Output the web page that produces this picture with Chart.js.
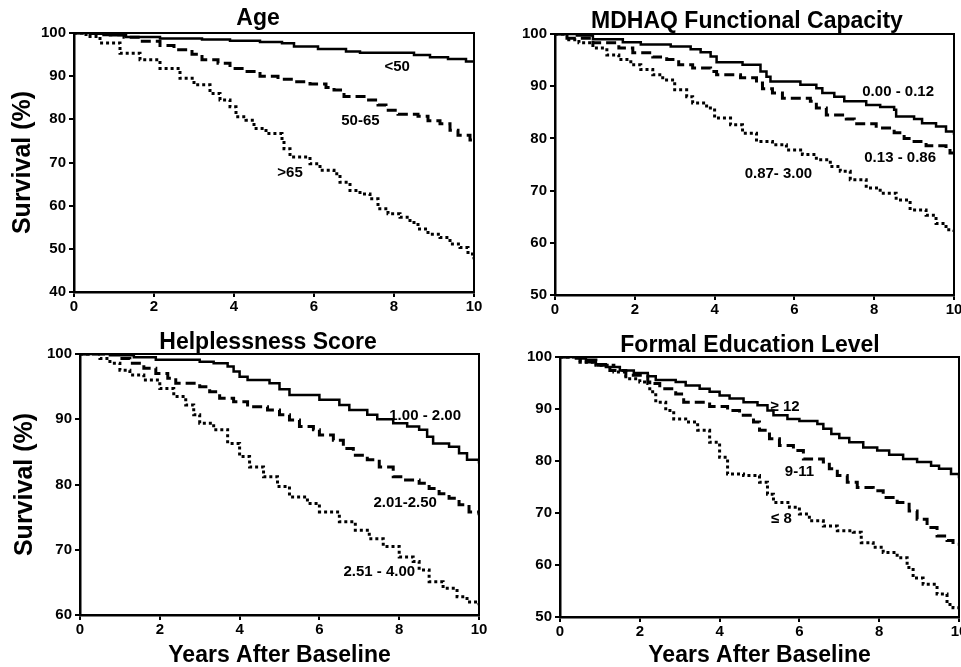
<!DOCTYPE html>
<html><head><meta charset="utf-8">
<script src="https://cdn.jsdelivr.net/npm/chart.js@4.4.1/dist/chart.umd.min.js"></script>
<style>
html,body{margin:0;padding:0;background:#fff;overflow:hidden;width:961px;height:667px;position:relative;}
canvas{position:absolute;}
</style></head><body>
<canvas id="c1" width="516" height="330" style="left:0px;top:0px"></canvas>
<canvas id="c2" width="514" height="330" style="left:490px;top:0px"></canvas>
<canvas id="c3" width="536" height="337" style="left:0px;top:330px"></canvas>
<canvas id="c4" width="520" height="337" style="left:490px;top:330px"></canvas>
<script>
// ---------- DATA (years after baseline, survival %) ----------
const panelTitles = ["Age", "MDHAQ Functional Capacity", "Helplessness Score", "Formal Education Level"];
const yTitle = "Survival (%)";
const xTitle = "Years After Baseline";
const xTicks = [0, 2, 4, 6, 8, 10];

// Age
const ageNames = ["<50", "50-65", ">65"];
const ageLt50 = [[0,100],[0.4,99.8],[0.9,99.5],[1.3,99.1],[2.15,98.7],[3.2,98.5],[3.9,98.2],[4.65,97.9],[5.2,97.6],[5.5,96.9],[6.1,96.3],[6.8,95.7],[7.15,95.4],[8.5,94.9],[8.9,94.4],[9.35,94.0],[9.8,93.4],[10,93.2]];
const age50to65 = [[0,100],[0.6,99.6],[1.25,99.0],[1.65,98.1],[2.15,97.1],[2.5,96.1],[2.95,95.1],[3.2,93.8],[3.6,93.0],[3.9,91.8],[4.25,91.1],[4.65,90.0],[5.1,89.3],[5.5,88.7],[5.9,88.2],[6.3,87.4],[6.5,86.8],[6.75,85.3],[7.3,84.5],[7.6,83.3],[7.8,82.1],[8.1,81.2],[8.6,80.7],[8.85,79.7],[9.15,79.0],[9.4,77.5],[9.6,76.3],[9.9,75.2],[10,74.8]];
const ageGt65 = [[0,100],[0.3,99.2],[0.65,97.7],[1.15,95.3],[1.65,93.8],[2.15,91.8],[2.65,89.5],[3.0,88.0],[3.4,86.0],[3.65,84.5],[3.9,82.9],[4.05,80.6],[4.3,79.8],[4.5,77.9],[4.8,76.7],[5.2,75.2],[5.25,73.2],[5.4,71.3],[5.9,69.7],[6.15,68.2],[6.5,67.4],[6.65,65.4],[6.9,63.5],[7.15,62.7],[7.4,61.6],[7.6,59.3],[7.85,58.1],[8.15,57.3],[8.4,56.1],[8.6,54.6],[8.85,53.4],[9.15,52.6],[9.4,51.1],[9.65,50.3],[9.85,48.8],[10,47.6]];

// MDHAQ functional capacity
const mdhaqNames = ["0.00 - 0.12", "0.13 - 0.86", "0.87- 3.00"];
const mdhaqLow = [[0,100],[0.55,99.7],[0.95,99.0],[1.7,98.4],[2.15,98.0],[2.9,97.6],[3.4,97.1],[3.65,96.5],[3.9,95.7],[4.05,94.6],[4.7,94.1],[5.15,92.8],[5.3,91.8],[5.4,90.9],[6.15,90.3],[6.55,89.6],[6.7,88.7],[7.0,88.0],[7.25,87.1],[7.8,86.4],[8.15,86.0],[8.5,85.5],[8.55,84.2],[9.0,83.7],[9.2,82.9],[9.55,82.3],[9.8,81.3],[10,80.7]];
const mdhaqMid = [[0,100],[0.3,99.2],[0.95,98.3],[1.6,97.3],[1.95,96.4],[2.45,95.6],[2.8,95.1],[3.1,94.1],[3.45,93.5],[3.9,92.8],[4.05,92.2],[4.65,91.6],[5.05,90.6],[5.2,89.5],[5.45,88.7],[5.7,87.7],[6.4,87.1],[6.55,85.8],[6.8,84.5],[7.3,83.7],[7.5,82.8],[8.05,82.0],[8.5,81.1],[8.75,80.0],[9.0,79.4],[9.3,78.6],[9.8,78.1],[9.9,77.2],[10,77.2]];
const mdhaqHigh = [[0,100],[0.3,98.9],[0.6,98.3],[0.95,97.3],[1.3,96.0],[1.6,95.1],[1.9,94.1],[2.15,93.2],[2.45,92.2],[2.7,91.2],[3.0,89.3],[3.3,88.0],[3.45,86.8],[3.8,85.8],[4.0,83.9],[4.4,82.6],[4.7,81.0],[5.05,79.4],[5.45,78.8],[5.8,77.8],[6.2,76.9],[6.55,75.9],[6.9,74.6],[7.15,73.7],[7.4,72.1],[7.8,70.5],[8.15,69.5],[8.55,68.2],[8.9,66.3],[9.3,65.3],[9.55,63.7],[9.8,62.5],[10,61.5]];

// Helplessness score
const helpNames = ["1.00 - 2.00", "2.01-2.50", "2.51 - 4.00"];
const helpLow = [[0,100],[0.75,99.8],[1.35,99.5],[1.9,99.1],[3.0,98.8],[3.35,98.6],[3.7,98.1],[3.85,97.3],[4.0,96.5],[4.2,96.0],[4.75,95.5],[5.0,94.6],[5.25,93.7],[6.0,93.0],[6.5,92.2],[6.75,91.4],[7.2,90.7],[7.45,90.0],[7.85,89.4],[8.2,88.9],[8.5,88.4],[8.7,87.3],[8.85,86.3],[9.25,85.8],[9.5,84.8],[9.7,83.8],[10,83.2]];
const helpMid = [[0,100],[1.0,99.3],[1.25,98.6],[1.6,97.8],[1.9,97.0],[2.2,96.3],[2.4,95.5],[3.0,95.0],[3.25,94.2],[3.5,93.2],[3.85,92.7],[4.2,91.9],[4.7,91.4],[5.0,90.7],[5.25,89.9],[5.5,88.9],[5.85,88.4],[6.0,87.6],[6.35,86.8],[6.6,85.5],[6.85,84.5],[7.2,83.8],[7.5,82.7],[7.85,81.2],[8.1,80.7],[8.5,80.2],[8.75,79.4],[9.0,78.6],[9.25,77.9],[9.5,76.9],[9.75,75.8],[10,75.3]];
const helpHigh = [[0,100],[0.5,99.3],[0.75,98.6],[1.0,97.5],[1.25,96.8],[1.6,96.0],[2.0,94.7],[2.35,93.5],[2.65,92.2],[2.85,90.7],[3.0,89.4],[3.35,88.4],[3.7,86.3],[4.0,84.3],[4.25,82.7],[4.6,81.2],[4.95,79.7],[5.25,78.1],[5.7,77.1],[6.0,75.8],[6.5,74.3],[6.9,73.0],[7.25,71.7],[7.6,70.5],[8.0,68.9],[8.35,68.2],[8.5,66.9],[8.75,65.1],[9.1,64.1],[9.45,62.8],[9.7,62.0],[10,61.5]];

// Formal education level
const eduNames = ["\u2265 12", "9-11", "\u2264 8"];
const eduHigh = [[0,100],[0.4,99.7],[0.65,99.0],[0.9,98.6],[1.15,98.1],[1.5,97.4],[1.85,96.9],[2.2,96.3],[2.4,95.6],[2.9,95.2],[3.15,94.5],[3.5,93.9],[3.75,93.3],[4.0,92.6],[4.25,92.0],[4.6,91.3],[4.95,90.7],[5.2,89.7],[5.35,88.8],[5.7,88.1],[6.0,87.7],[6.45,87.1],[6.6,86.2],[6.8,85.2],[7.0,84.4],[7.25,83.6],[7.6,82.6],[7.95,82.0],[8.25,81.2],[8.6,80.4],[8.95,79.8],[9.3,79.1],[9.5,78.5],[9.8,77.5],[10,76.7]];
const eduMid = [[0,100],[0.5,99.4],[0.9,98.4],[1.25,97.4],[1.65,96.5],[2.2,94.9],[2.5,93.9],[2.9,92.9],[3.1,91.3],[3.75,90.5],[4.2,89.7],[4.5,88.8],[4.85,87.5],[5.0,85.9],[5.25,84.3],[5.5,83.0],[5.85,82.0],[6.1,80.4],[6.6,79.8],[6.75,78.5],[6.95,77.2],[7.2,75.9],[7.45,74.9],[7.85,74.3],[8.1,73.0],[8.45,72.0],[8.75,70.4],[8.95,68.8],[9.2,67.2],[9.45,65.6],[9.7,64.7],[9.85,64.0],[10,64.0]];
const eduLow = [[0,100],[0.5,99.0],[0.9,98.4],[1.35,97.1],[1.65,95.8],[2.0,95.2],[2.25,93.3],[2.4,91.3],[2.65,89.7],[2.85,88.1],[3.15,87.5],[3.45,85.9],[3.75,83.6],[4.0,80.7],[4.2,77.5],[4.6,77.2],[5.0,75.9],[5.2,73.6],[5.35,72.0],[5.75,71.1],[6.0,69.8],[6.25,68.5],[6.6,67.5],[6.95,66.6],[7.35,66.3],[7.55,64.3],[7.85,63.4],[8.1,62.4],[8.45,61.4],[8.7,59.5],[8.85,57.5],[9.1,56.3],[9.45,54.4],[9.7,52.4],[9.85,51.8],[10,51.5]];

// ---------- STYLE / LAYOUT ----------
const FAMILY = "'Liberation Sans', Arial, Helvetica, sans-serif";
Chart.defaults.font.family = FAMILY;
Chart.defaults.font.weight = 'bold';
Chart.defaults.color = '#000';

const LINE = [
  {borderWidth: 2.5, borderDash: []},
  {borderWidth: 3, borderDash: [10, 5]},
  {borderWidth: 3, borderDash: [3, 3]}
];

function makePanel(id, p) {
  const labelPlugin = {
    id: 'curveLabels_' + id,
    afterDatasetsDraw(chart) {
      const ctx = chart.ctx, xs = chart.scales.x, ys = chart.scales.y;
      ctx.save();
      ctx.font = 'bold 15px ' + FAMILY;
      ctx.fillStyle = '#000';
      ctx.textAlign = 'center';
      ctx.textBaseline = 'middle';
      p.labels.forEach((l, i) => ctx.fillText(p.names[i], xs.getPixelForValue(l[0]), ys.getPixelForValue(l[1])));
      ctx.restore();
    }
  };
  const tickFont = {size: 15, weight: 'bold'};
  return new Chart(document.getElementById(id), {
    type: 'line',
    data: {
      datasets: p.series.map((d, i) => ({
        label: p.names[i], data: d, stepped: true, borderColor: '#000',
        borderWidth: LINE[i].borderWidth, borderDash: LINE[i].borderDash,
        pointRadius: 0, fill: false, tension: 0, borderCapStyle: 'butt'
      }))
    },
    options: {
      responsive: false, animation: false, devicePixelRatio: 1,
      layout: {padding: 0},
      plugins: {
        legend: {display: false}, tooltip: {enabled: false},
        title: {display: true, text: p.title, font: {size: 23, weight: 'bold', lineHeight: 1}, color: '#000',
                padding: {top: p.titlePad[0], bottom: p.titlePad[1]}, fullSize: true}
      },
      scales: {
        x: {
          type: 'linear', position: 'bottom', min: 0, max: 10,
          afterBuildTicks: s => { s.ticks = xTicks.map(v => ({value: v})); },
          ticks: {font: tickFont, color: '#000', padding: 1, maxRotation: 0},
          grid: {display: true, drawOnChartArea: false, drawTicks: true, tickLength: 5, color: '#000', lineWidth: 2},
          border: {display: true, color: '#000', width: 2.5},
          title: {display: p.xTitle, text: xTitle, font: {size: 23, weight: 'bold', lineHeight: 1}, color: '#000', padding: {top: 0, bottom: p.xTitlePad}},
          afterFit: s => { s.height = p.xH; }
        },
        y: {
          type: 'linear', position: 'left', min: p.yMin, max: 100,
          ticks: {stepSize: 10, font: tickFont, color: '#000', padding: 3},
          grid: {display: true, drawOnChartArea: false, drawTicks: true, tickLength: 5, color: '#000', lineWidth: 2},
          border: {display: true, color: '#000', width: 2.5},
          title: {display: p.yTitle, text: yTitle, font: {size: 25, weight: 'bold', lineHeight: 1}, color: '#000', padding: {top: p.yTitlePad, bottom: 0}},
          afterFit: s => { s.width = p.yW; }
        },
        x2: {
          type: 'linear', position: 'top', min: 0, max: 10, display: true,
          ticks: {display: false}, grid: {display: false},
          border: {display: true, color: '#000', width: 2},
          afterFit: s => { s.height = 0; }
        },
        y2: {
          type: 'linear', position: 'right', min: 0, max: 1, display: true,
          ticks: {display: false}, grid: {display: false},
          border: {display: true, color: '#000', width: 2},
          afterFit: s => { s.width = p.y2W; }
        }
      }
    },
    plugins: [labelPlugin]
  });
}

makePanel('c1', {title: panelTitles[0], titlePad: [7, 3], yMin: 40, names: ageNames,
  series: [ageLt50, age50to65, ageGt65],
  labels: [[8.08, 92.2], [7.16, 79.7], [5.4, 67.6]],
  yW: 74, y2W: 42, xH: 38, yTitle: true, yTitlePad: 11, xTitle: false, xTitlePad: 0});

makePanel('c2', {title: panelTitles[1], titlePad: [10, 1], yMin: 50, names: mdhaqNames,
  series: [mdhaqLow, mdhaqMid, mdhaqHigh],
  labels: [[8.6, 89.0], [8.65, 76.2], [5.6, 73.3]],
  yW: 65, y2W: 50, xH: 35, yTitle: false, yTitlePad: 0, xTitle: false, xTitlePad: 0});

makePanel('c3', {title: panelTitles[2], titlePad: [1, 0], yMin: 60, names: helpNames,
  series: [helpLow, helpMid, helpHigh],
  labels: [[8.65, 90.5], [8.15, 77.2], [7.5, 66.6]],
  yW: 80, y2W: 57, xH: 52, yTitle: true, yTitlePad: 13, xTitle: true, xTitlePad: 0});

makePanel('c4', {title: panelTitles[3], titlePad: [4, 0], yMin: 50, names: eduNames,
  series: [eduHigh, eduMid, eduLow],
  labels: [[5.64, 90.5], [6.0, 78.0], [5.55, 68.8]],
  yW: 70, y2W: 51, xH: 50, yTitle: false, yTitlePad: 0, xTitle: true, xTitlePad: 0});
</script>
</body></html>
